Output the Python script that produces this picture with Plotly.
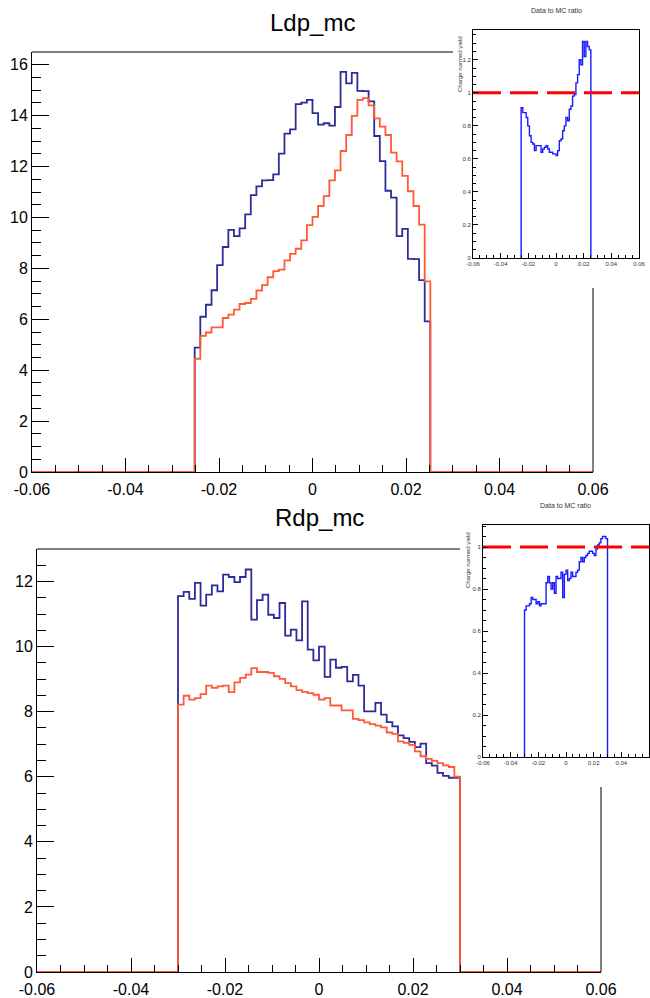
import numpy as np
import plotly.graph_objects as go

# ---------------- histogram definition ----------------
N_BINS = 100
X_MIN, X_MAX = -0.06, 0.06
LDP_FIRST_BIN = 29
RDP_FIRST_BIN = 25

# ---------------- data ----------------
ldp_data = [4.89, 6.10, 6.57, 7.14, 8.13, 8.84, 9.51, 9.27, 9.57, 10.12, 10.88, 11.22,
            11.46, 11.47, 11.69, 12.51, 13.29, 13.46, 14.45, 14.51, 14.62, 14.10, 13.65,
            13.70, 13.61, 14.34, 15.72, 15.27, 15.68, 14.97, 14.96, 14.56, 13.20, 12.21,
            11.05, 10.78, 9.27, 9.55, 8.37, 8.36, 7.54, 5.92]
ldp_mc = [4.45, 5.35, 5.48, 5.68, 5.68, 6.05, 6.18, 6.38, 6.60, 6.64, 6.80, 7.13, 7.34,
          7.65, 7.89, 7.95, 8.31, 8.57, 8.77, 9.10, 9.70, 10.02, 10.45, 10.84, 11.46, 11.85,
          12.61, 13.24, 13.99, 14.62, 14.69, 14.40, 13.89, 13.57, 13.24, 12.55, 12.20, 11.63,
          11.03, 10.45, 9.72, 7.49]
ldp_ratio = [0.91, 0.88, 0.88, 0.85, 0.80, 0.74, 0.70, 0.69, 0.65, 0.68, 0.68, 0.68, 0.64,
             0.66, 0.67, 0.68, 0.66, 0.64, 0.64, 0.63, 0.63, 0.62, 0.65, 0.71, 0.72, 0.77,
             0.80, 0.85, 0.83, 0.90, 0.92, 0.98, 0.99, 1.06, 1.11, 1.20, 1.17, 1.31, 1.22,
             1.31, 1.28, 1.26]

rdp_data = [11.55, 11.68, 11.47, 11.96, 11.26, 11.60, 11.88, 11.70, 12.21, 12.14, 11.98,
            12.14, 12.37, 10.83, 11.43, 11.60, 10.98, 10.88, 11.34, 10.34, 10.52, 10.19,
            11.39, 9.91, 9.58, 10.00, 9.07, 9.60, 9.35, 9.38, 8.93, 9.13, 8.80, 8.01, 8.01,
            8.27, 7.91, 7.68, 7.55, 7.27, 7.19, 7.07, 6.91, 7.02, 6.42, 6.34, 6.12, 6.03,
            5.97, 5.97]
rdp_mc = [8.22, 8.49, 8.37, 8.42, 8.54, 8.80, 8.73, 8.78, 8.80, 8.60, 8.90, 9.04, 9.14,
          9.34, 9.22, 9.22, 9.19, 9.09, 9.01, 8.88, 8.78, 8.66, 8.61, 8.57, 8.52, 8.37, 8.42,
          8.19, 8.19, 8.04, 8.04, 7.78, 7.74, 7.67, 7.62, 7.57, 7.52, 7.36, 7.32, 7.09, 7.04,
          6.98, 6.78, 6.63, 6.55, 6.49, 6.42, 6.35, 6.30, 6.00]
rdp_ratio = [0.70, 0.72, 0.72, 0.73, 0.76, 0.75, 0.75, 0.73, 0.74, 0.72, 0.73, 0.73, 0.73,
             0.83, 0.86, 0.83, 0.80, 0.83, 0.78, 0.86, 0.85, 0.85, 0.88, 0.76, 0.87, 0.89,
             0.84, 0.85, 0.88, 0.86, 0.86, 0.88, 0.89, 0.93, 0.95, 0.93, 0.95, 0.96, 0.97,
             0.98, 0.98, 0.97, 0.96, 0.99, 1.01, 1.02, 1.04, 1.05, 1.05, 1.04]

ratio_reference = 1.0

# ---------------- tick labels ----------------
x_tick_vals = [-0.06, -0.04, -0.02, 0, 0.02, 0.04, 0.06]
x_tick_text = ["-0.06", "-0.04", "-0.02", "0", "0.02", "0.04", "0.06"]
ldp_y_vals = [0, 2, 4, 6, 8, 10, 12, 14, 16]
ldp_y_text = ["0", "2", "4", "6", "8", "10", "12", "14", "16"]
rdp_y_vals = [0, 2, 4, 6, 8, 10, 12]
rdp_y_text = ["0", "2", "4", "6", "8", "10", "12"]
ratio_top_y_vals = [0, 0.2, 0.4, 0.6, 0.8, 1, 1.2]
ratio_top_y_text = ["0", "0.2", "0.4", "0.6", "0.8", "1", "1.2"]
ratio_bot_y_vals = [0, 0.2, 0.4, 0.6, 0.8, 1]
ratio_bot_y_text = ["0", "0.2", "0.4", "0.6", "0.8", "1"]

# ---------------- helpers ----------------
edges = np.linspace(X_MIN, X_MAX, N_BINS + 1)


def full_hist(values, first):
    c = np.zeros(N_BINS)
    c[first:first + len(values)] = values
    return edges, np.append(c, c[-1])


def ratio_path(values, first):
    n = len(values)
    e = edges[first:first + n + 1]
    x = [e[0]] + list(e[:n]) + [e[n], e[n]]
    y = [0] + list(values) + [values[-1], 0]
    return x, y


BLUE = "#2c2c9a"
RED = "#ff5a38"
W, H = 650, 998


def px(x):
    return x / W


def py(y):
    return 1 - y / H


fig = go.Figure()

# top main
for vals, col in [(ldp_data, BLUE), (ldp_mc, RED)]:
    x, y = full_hist(vals, LDP_FIRST_BIN)
    fig.add_trace(go.Scatter(x=x, y=y, mode="lines", line=dict(color=col, width=1.8, shape="hv"),
                             xaxis="x", yaxis="y", showlegend=False, hoverinfo="skip"))
# bottom main
for vals, col in [(rdp_data, BLUE), (rdp_mc, RED)]:
    x, y = full_hist(vals, RDP_FIRST_BIN)
    fig.add_trace(go.Scatter(x=x, y=y, mode="lines", line=dict(color=col, width=1.8, shape="hv"),
                             xaxis="x3", yaxis="y3", showlegend=False, hoverinfo="skip"))
# insets
for vals, first, xa, ya in [(ldp_ratio, LDP_FIRST_BIN, "x2", "y2"), (rdp_ratio, RDP_FIRST_BIN, "x4", "y4")]:
    x, y = ratio_path(vals, first)
    fig.add_trace(go.Scatter(x=x, y=y, mode="lines", line=dict(color="#1a1aff", width=1.4, shape="hv"),
                             xaxis=xa, yaxis=ya, showlegend=False, hoverinfo="skip"))
    fig.add_trace(go.Scatter(x=[X_MIN, X_MAX], y=[ratio_reference, ratio_reference], mode="lines",
                             line=dict(color="#ff0000", width=3, dash="28px,9px"),
                             xaxis=xa, yaxis=ya, showlegend=False, hoverinfo="skip"))

FONT = "Liberation Sans, Arial, sans-serif"


def main_x(domain, anchor):
    return dict(domain=domain, anchor=anchor, range=[X_MIN, X_MAX], showline=True, linecolor="black",
                linewidth=1, ticks="inside", ticklen=14, tickwidth=1, tickcolor="black",
                tickmode="array", tickvals=x_tick_vals, ticktext=x_tick_text, automargin=False,
                ticklabelstandoff=3,
                minor=dict(ticks="inside", ticklen=7, tickcolor="black", tickmode="linear", tick0=0, dtick=0.005),
                showgrid=False, zeroline=False, tickfont=dict(family=FONT, size=16, color="black"))


def main_y(domain, anchor, rng, vals, text):
    return dict(domain=domain, anchor=anchor, range=rng, showline=True, linecolor="black",
                linewidth=1, ticks="inside", ticklen=17, tickwidth=1, tickcolor="black",
                tickmode="array", tickvals=vals, ticktext=text, automargin=False,
                minor=dict(ticks="inside", ticklen=9, tickcolor="black", tickmode="linear", tick0=0, dtick=0.5),
                showgrid=False, zeroline=False, tickfont=dict(family=FONT, size=16, color="black"))


def inset_x(domain, anchor):
    return dict(domain=domain, anchor=anchor, range=[X_MIN, X_MAX], showline=True, mirror=True,
                linecolor="black", linewidth=1, ticks="inside", ticklen=5, tickwidth=1, tickcolor="black",
                tickmode="array", tickvals=x_tick_vals, ticktext=x_tick_text, automargin=False,
                minor=dict(ticks="inside", ticklen=3, tickcolor="black", tickmode="linear", tick0=0, dtick=0.005),
                showgrid=False, zeroline=False, tickfont=dict(family=FONT, size=6, color="#333"))


def inset_y(domain, anchor, rng, vals, text):
    return dict(domain=domain, anchor=anchor, range=rng, showline=True, mirror=True,
                linecolor="black", linewidth=1, ticks="inside", ticklen=5, tickwidth=1, tickcolor="black",
                tickmode="array", tickvals=vals, ticktext=text, automargin=False,
                minor=dict(ticks="inside", ticklen=3, tickcolor="black", tickmode="linear", tick0=0, dtick=0.05),
                showgrid=False, zeroline=False, tickfont=dict(family=FONT, size=6, color="#333"))


top_main_xd = [px(32), px(593)]
top_main_yd = [py(472), py(52)]
bot_main_xd = [px(37), px(601)]
bot_main_yd = [py(972), py(549)]
top_ins_xd = [px(473), px(639)]
top_ins_yd = [py(258), py(30)]
bot_ins_xd = [px(483), 0.9985]
bot_ins_yd = [py(757), py(525)]

fig.update_layout(
    width=W, height=H, autosize=False,
    margin=dict(l=0, r=0, t=0, b=0, autoexpand=False),
    paper_bgcolor="white", plot_bgcolor="white",
    xaxis=main_x(top_main_xd, "y"),
    yaxis=main_y(top_main_yd, "x", [0, 16.5], ldp_y_vals, ldp_y_text),
    xaxis2=inset_x(top_ins_xd, "y2"),
    yaxis2=inset_y(top_ins_yd, "x2", [0, 1.38], ratio_top_y_vals, ratio_top_y_text),
    xaxis3=main_x(bot_main_xd, "y3"),
    yaxis3=main_y(bot_main_yd, "x3", [0, 13], rdp_y_vals, rdp_y_text),
    xaxis4=inset_x(bot_ins_xd, "y4"),
    yaxis4=inset_y(bot_ins_yd, "x4", [0, 1.105], ratio_bot_y_vals, ratio_bot_y_text),
)

# frame lines of the main pads (partly hidden behind the inset pads)
frame = dict(color="black", width=1)
fig.add_shape(type="line", xref="paper", yref="paper", x0=top_main_xd[0], x1=px(453),
              y0=top_main_yd[1], y1=top_main_yd[1], line=frame)
fig.add_shape(type="line", xref="paper", yref="paper", x0=top_main_xd[1], x1=top_main_xd[1],
              y0=top_main_yd[0], y1=py(288), line=frame)
fig.add_shape(type="line", xref="paper", yref="paper", x0=bot_main_xd[0], x1=px(460),
              y0=bot_main_yd[1], y1=bot_main_yd[1], line=frame)
fig.add_shape(type="line", xref="paper", yref="paper", x0=bot_main_xd[1], x1=bot_main_xd[1],
              y0=bot_main_yd[0], y1=py(787), line=frame)

ann = []
ann.append(dict(text="Ldp_mc", x=px(312), y=py(22), xref="paper", yref="paper", showarrow=False,
                font=dict(family=FONT, size=24, color="black"), xanchor="center", yanchor="middle"))
ann.append(dict(text="Rdp_mc", x=px(319), y=py(517), xref="paper", yref="paper", showarrow=False,
                font=dict(family=FONT, size=24, color="black"), xanchor="center", yanchor="middle"))
ann.append(dict(text="Data to MC ratio", x=px(556), y=py(10), xref="paper", yref="paper", showarrow=False,
                font=dict(family=FONT, size=7, color="#333"), xanchor="center", yanchor="middle"))
ann.append(dict(text="Data to MC ratio", x=px(565), y=py(505), xref="paper", yref="paper", showarrow=False,
                font=dict(family=FONT, size=7, color="#333"), xanchor="center", yanchor="middle"))
ann.append(dict(text="Charge normed yield", x=px(460), y=py(64), xref="paper", yref="paper", showarrow=False,
                textangle=-90, font=dict(family=FONT, size=6, color="#333"), xanchor="center", yanchor="middle"))
ann.append(dict(text="Charge normed yield", x=px(468), y=py(560), xref="paper", yref="paper", showarrow=False,
                textangle=-90, font=dict(family=FONT, size=6, color="#333"), xanchor="center", yanchor="middle"))
fig.update_layout(annotations=ann)

fig.write_html("out.html")
